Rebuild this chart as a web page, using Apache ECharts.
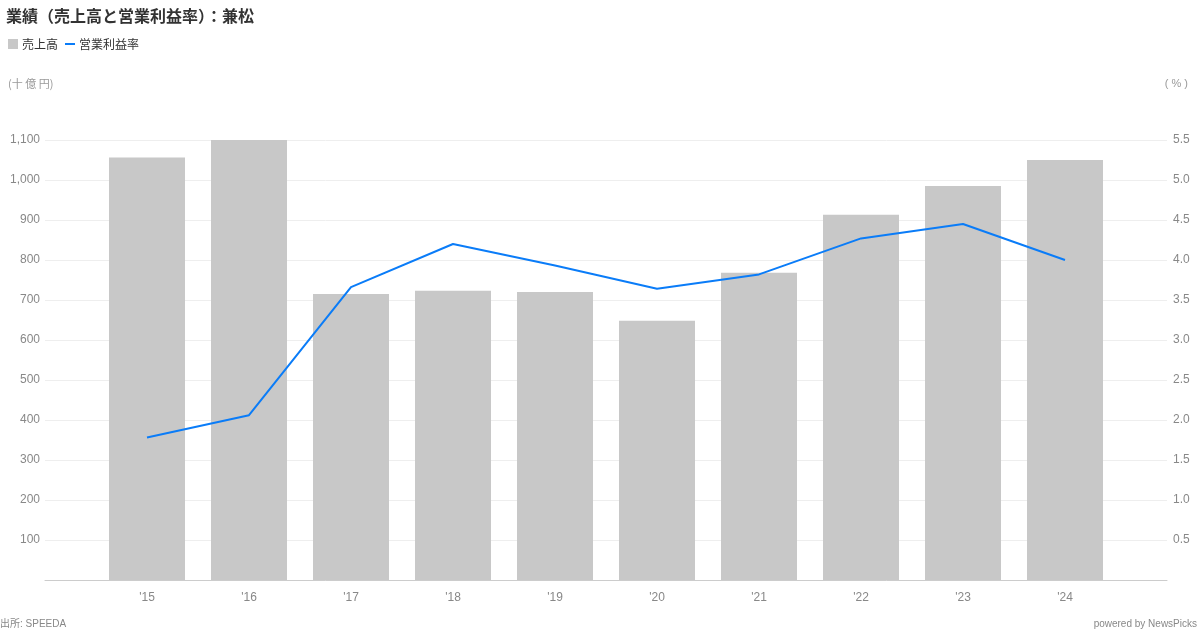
<!DOCTYPE html>
<html><head><meta charset="utf-8">
<script src="https://cdn.jsdelivr.net/npm/echarts@6/dist/echarts.min.js"></script>
<style>html,body{margin:0;padding:0;background:#fff}#c{width:1200px;height:630px}</style>
</head><body><div id="c"></div>
<script>
const categories = ["'15","'16","'17","'18","'19","'20","'21","'22","'23","'24"];
const sales = [1056, 1100, 715, 723, 720, 648, 768, 913, 985, 1050];
const margin = [1.78, 2.06, 3.66, 4.2, 3.93, 3.64, 3.82, 4.27, 4.45, 4.0];
const leftTicks = {min: 0, max: 1100, interval: 100};
const rightTicks = {min: 0, max: 5.5, interval: 0.5};

const padCats = [''].concat(categories, ['']);
const padSales = [null].concat(sales, [null]);
const padMargin = [null].concat(margin, [null]);
const cjk = '"Noto Sans CJK JP", "Noto Sans", sans-serif';
const latin = '"Liberation Sans", "Noto Sans CJK JP", sans-serif';
const blue = '#0a7cf8';

const chart = echarts.init(document.getElementById('c'), null, {renderer: 'canvas'});
chart.setOption({
  animation: false,
  textStyle: {fontFamily: latin},
  title: [
    {text: '業績（売上高と営業利益率）：兼松', left: 6, top: 8, padding: 0,
     textStyle: {fontSize: 16, fontWeight: 'bold', color: '#333', fontFamily: cjk}},
    {text: '出所: SPEEDA', left: 0, top: 619, padding: 0,
     textStyle: {fontSize: 10, fontWeight: 'normal', color: '#888', fontFamily: latin}},
    {text: 'powered by NewsPicks', right: 3, top: 619, padding: 0,
     textStyle: {fontSize: 10, fontWeight: 'normal', color: '#888', fontFamily: latin}},
    {text: '(十 億 円)', left: 8, top: 78, padding: 0,
     textStyle: {fontSize: 11, fontWeight: 'normal', color: '#999', fontFamily: cjk}},
    {text: '( % )', right: 12, top: 78, padding: 0,
     textStyle: {fontSize: 11, fontWeight: 'normal', color: '#999', fontFamily: latin}}
  ],
  legend: [
    {left: 8, top: 38, padding: 0, itemWidth: 10, itemHeight: 10, itemGap: 8,
     textStyle: {fontSize: 12, color: '#333', fontFamily: cjk, padding: [0, 0, 0, -1]},
     data: [{name: '売上高', icon: 'rect'}]},
    {left: 65, top: 38, padding: 0, itemWidth: 10, itemHeight: 2, itemGap: 8,
     textStyle: {fontSize: 12, color: '#333', fontFamily: cjk, padding: [0, 0, 0, -1]},
     data: [{name: '営業利益率', icon: 'rect', itemStyle: {color: blue}}]}
  ],
  grid: {left: 45, right: 33, top: 140, bottom: 50, containLabel: false},
  xAxis: {
    type: 'category', data: padCats, boundaryGap: false,
    axisLine: {lineStyle: {color: '#ccc', width: 1}},
    axisTick: {show: false},
    axisLabel: {color: '#888', fontSize: 12, margin: 12, interval: 0, fontFamily: latin},
    splitLine: {show: false}
  },
  yAxis: [
    {type: 'value', min: leftTicks.min, max: leftTicks.max, interval: leftTicks.interval,
     axisLine: {show: false}, axisTick: {show: false},
     axisLabel: {color: '#888', fontSize: 12, margin: 5, fontFamily: latin, padding: [2, 0, 0, 0],
       formatter: v => v === 0 ? '' : v.toLocaleString('en-US')},
     splitLine: {lineStyle: {color: '#eee', width: 1}}},
    {type: 'value', min: rightTicks.min, max: rightTicks.max, interval: rightTicks.interval,
     axisLine: {show: false}, axisTick: {show: false},
     axisLabel: {color: '#888', fontSize: 12, margin: 6, fontFamily: latin, padding: [2, 0, 0, 0],
       formatter: v => v === 0 ? '' : v.toFixed(1)},
     splitLine: {show: false}}
  ],
  series: [
    {name: '売上高', type: 'bar', data: padSales, barWidth: 76, yAxisIndex: 0,
     itemStyle: {color: '#c8c8c8'}},
    {name: '営業利益率', type: 'line', data: padMargin, yAxisIndex: 1,
     symbol: 'none', lineStyle: {color: blue, width: 2}, itemStyle: {color: blue}}
  ]
});
</script></body></html>
